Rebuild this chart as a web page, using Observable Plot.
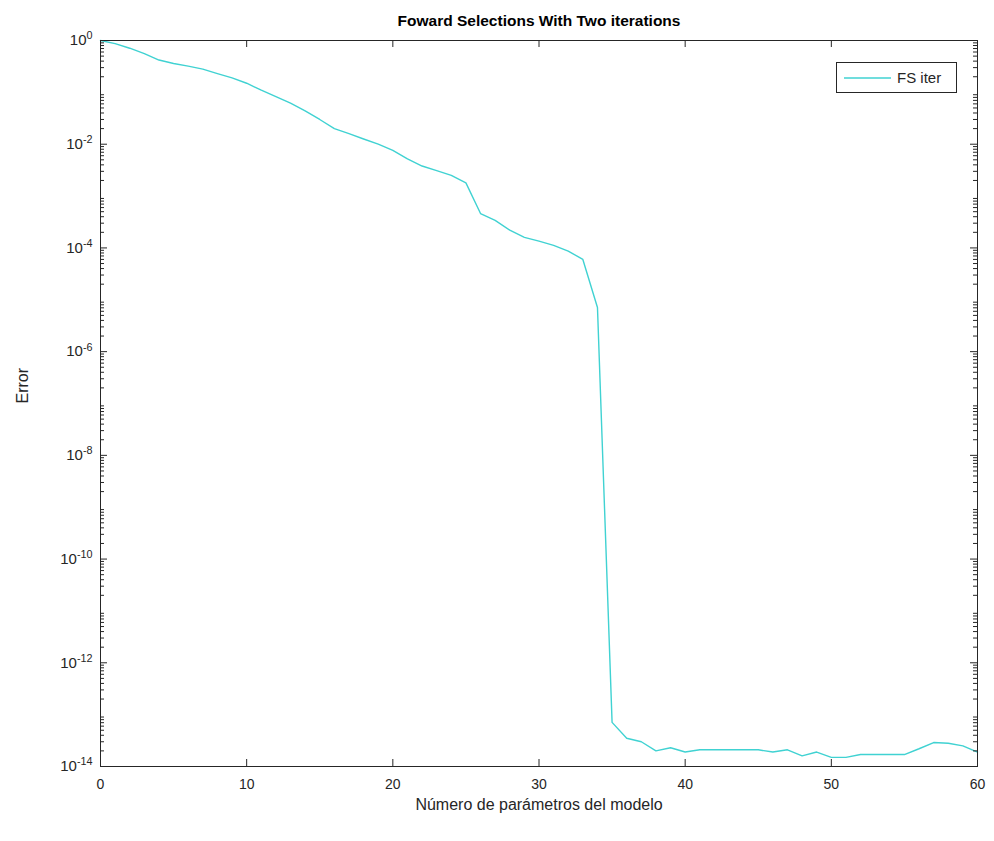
<!DOCTYPE html>
<html><head><meta charset="utf-8">
<script src="https://cdn.jsdelivr.net/npm/d3@7"></script>
<script src="https://cdn.jsdelivr.net/npm/@observablehq/plot@0.6"></script>
<style>
body{margin:0;background:#fff;}
#wrap{position:relative;width:994px;height:841px;font-family:"Liberation Sans",Arial,sans-serif;}
#legend{position:absolute;left:836px;top:62px;width:121px;height:31px;border:1px solid #262626;background:#fff;box-sizing:border-box;display:flex;align-items:center;font-size:15px;color:#262626;}
#legend svg{margin-left:7px;margin-right:6px;display:block;}
</style></head><body><div id="wrap"></div>
<script>
const titleText = "Foward Selections With Two iterations";
const xLabel = "Número de parámetros del modelo";
const yLabel = "Error";
const seriesName = "FS iter";
const lineColor = "#40d2d2";
const params = [0,1,2,3,4,5,6,7,8,9,10,11,12,13,14,15,16,17,18,19,20,21,22,23,24,25,26,27,28,29,30,31,32,33,34,35,36,37,38,39,40,41,42,43,44,45,46,47,48,49,50,51,52,53,54,55,56,57,58,59,60];
const errors = [1, 0.87, 0.71, 0.56, 0.42, 0.36, 0.32, 0.28, 0.23, 0.19,
  0.15, 0.11, 0.083, 0.062, 0.044, 0.030, 0.020, 0.016, 0.0126, 0.0100,
  0.0076, 0.0052, 0.0038, 0.0031, 0.0025, 0.0018, 4.6e-4, 3.4e-4, 2.2e-4, 1.6e-4,
  1.35e-4, 1.12e-4, 8.7e-5, 6.0e-5, 7.1e-6, 7.1e-14, 3.5e-14, 3.0e-14, 2.0e-14, 2.3e-14,
  1.9e-14, 2.1e-14, 2.1e-14, 2.1e-14, 2.1e-14, 2.1e-14, 1.9e-14, 2.1e-14, 1.6e-14, 1.9e-14,
  1.5e-14, 1.5e-14, 1.7e-14, 1.7e-14, 1.7e-14, 1.7e-14, 2.2e-14, 2.9e-14, 2.8e-14, 2.5e-14, 1.9e-14];
const xTicks = [0,10,20,30,40,50,60];
const yTicks = [1e0,1e-2,1e-4,1e-6,1e-8,1e-10,1e-12,1e-14];
const yTickExps = ["0","-2","-4","-6","-8","-10","-12","-14"];

const data = params.map((p,i)=>({p, e: errors[i]}));
// minor log ticks (axis decoration)
const minorTicks = [];
for (let k=-14;k<0;k++) for (let m=2;m<=9;m++) minorTicks.push(m*Math.pow(10,k));

const W=994,H=841,mL=100,mR=17,mT=40,mB=75;
const pw=W-mL-mR, ph=H-mT-mB;
const ink="#262626";

const chart = Plot.plot({
  width: W, height: H,
  marginLeft: mL, marginRight: mR, marginTop: mT, marginBottom: mB,
  style: {fontFamily:'"Liberation Sans", Arial, sans-serif', fontSize:"14px", color: ink, background:"#fff"},
  x: {domain:[0,60]},
  y: {type:"log", domain:[1e-14,1]},
  marks: [
    Plot.lineY(data, {x:"p", y:"e", stroke:lineColor, strokeWidth:1.4}),
    Plot.frame({stroke: ink}),
    // inward ticks
    Plot.tickX(xTicks, {x:d=>d, insetTop: ph-7, stroke: ink}),
    Plot.tickX(xTicks, {x:d=>d, insetBottom: ph-7, stroke: ink}),
    Plot.tickY(yTicks, {y:d=>d, insetRight: pw-7, stroke: ink}),
    Plot.tickY(yTicks, {y:d=>d, insetLeft: pw-7, stroke: ink}),
    Plot.tickY(minorTicks, {y:d=>d, insetRight: pw-4, stroke: ink}),
    Plot.tickY(minorTicks, {y:d=>d, insetLeft: pw-4, stroke: ink}),
    Plot.axisX(xTicks, {anchor:"bottom", tickSize:0, tickPadding:13, fontSize:14, fill: ink, label:null}),
    Plot.axisY(yTicks, {anchor:"left", tickSize:0, tickPadding:8, fontSize:15, fill: ink, label:null,
      tickFormat:(d)=>"10^"+yTickExps[yTicks.indexOf(d)]}),
    Plot.text([xLabel], {frameAnchor:"bottom", dy:43, fontSize:16, fill: ink}),
    Plot.text([yLabel], {frameAnchor:"left", dx:-78, rotate:-90, fontSize:16, fill: ink}),
    Plot.text([titleText], {frameAnchor:"top", dy:-26, fontSize:15.5, fontWeight:"bold", fill:"#000"})
  ]
});
document.getElementById("wrap").appendChild(chart);

// superscript exponents in y tick labels
d3.select(chart).selectAll('g[aria-label="y-axis tick label"] text').each(function(){
  const s = d3.select(this);
  const t = s.text();
  const parts = t.split("^");
  if (parts.length !== 2) return;
  s.text(null);
  s.append("tspan").text(parts[0]);
  s.append("tspan").attr("dy","-0.55em").attr("font-size","0.72em").text(parts[1]);
});

const leg = document.createElement("div");
leg.id = "legend";
leg.innerHTML = '<svg width="47" height="4"><line x1="0" y1="2" x2="47" y2="2" stroke-width="1.6"></line></svg><span></span>';
leg.querySelector("line").setAttribute("stroke", lineColor);
leg.querySelector("span").textContent = seriesName;
document.getElementById("wrap").appendChild(leg);
</script>
</body></html>
